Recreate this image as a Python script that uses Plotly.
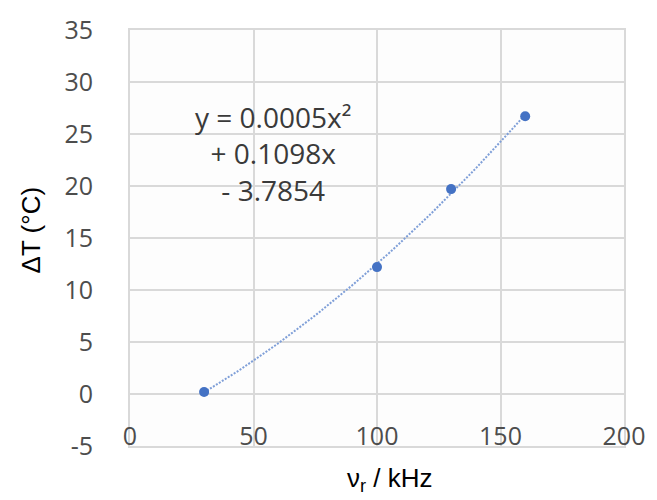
import numpy as np
import plotly.graph_objects as go

# Data
freq_khz = [30, 100, 130, 160]
delta_t = [0.2, 12.2, 19.7, 26.7]

x_ticks = [0, 50, 100, 150, 200]
y_ticks = [-5, 0, 5, 10, 15, 20, 25, 30, 35]

trend_label = "y = 0.0005x²<br>+ 0.1098x<br>- 3.7854"

# Polynomial (order 2) trendline fitted to the data, as in the original chart
coef = np.polyfit(freq_khz, delta_t, 2)
trend_x = np.linspace(min(freq_khz), max(freq_khz), 60)
trend_y = np.polyval(coef, trend_x)

fig = go.Figure()
fig.add_trace(go.Scatter(
    x=trend_x, y=trend_y, mode="lines",
    line=dict(color="#7f9fd8", width=2, dash="2px,1.5px"),
    hoverinfo="skip", showlegend=False,
))
fig.add_trace(go.Scatter(
    x=freq_khz, y=delta_t, mode="markers",
    marker=dict(color="#4472c4", size=10),
    showlegend=False,
))

grid = "#d9d9d9"
tick_font = dict(family="Open Sans", size=25, color="#4d4d4d")
fig.update_xaxes(
    range=[0, 200], tickvals=x_ticks, ticktext=[str(v) for v in x_ticks],
    showgrid=True, gridcolor=grid, gridwidth=2,
    showline=True, linecolor=grid, linewidth=2, mirror=True,
    zeroline=False, ticks="",
    ticklabelposition="inside", ticklabeloverflow="allow", ticklabelstandoff=-2,
    tickfont=tick_font,
)
fig.update_yaxes(
    range=[-5, 35], tickvals=y_ticks, ticktext=[str(v) for v in y_ticks],
    showgrid=True, gridcolor=grid, gridwidth=2,
    showline=True, linecolor=grid, linewidth=2, mirror=True,
    zeroline=False, ticks="", ticklabelstandoff=30,
    tickfont=tick_font,
)

fig.add_annotation(
    text=trend_label, xref="paper", yref="paper", x=0.29, y=0.703,
    showarrow=False, align="center", xanchor="center", yanchor="middle",
    font=dict(family="Open Sans", size=28, color="#3a3a3a"),
)
fig.add_annotation(
    text="ΔT (°C)", xref="paper", yref="paper", x=-0.201, y=0.52,
    showarrow=False, textangle=-90, xanchor="center", yanchor="middle",
    font=dict(family="Liberation Sans", size=26, color="#000000"),
)
fig.add_annotation(
    text="ν<sub>r</sub> / kHz", xref="paper", yref="paper", x=0.527, y=-0.081,
    showarrow=False, xanchor="center", yanchor="middle",
    font=dict(family="Liberation Sans", size=26, color="#000000"),
)

fig.update_layout(
    width=657, height=500,
    margin=dict(l=130, r=30, t=25, b=54),
    paper_bgcolor="#ffffff", plot_bgcolor="#fdfdfd",
)
fig.write_html("out.html")
